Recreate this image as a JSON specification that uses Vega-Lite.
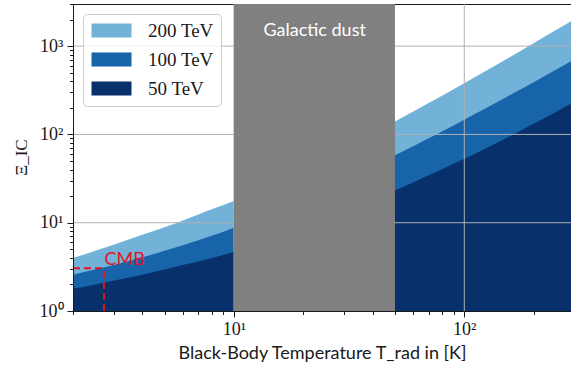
{
  "$schema": "https://vega.github.io/schema/vega-lite/v6.json",
  "width": 498,
  "height": 307,
  "autosize": "none",
  "padding": {"left": 73, "top": 4, "right": 0, "bottom": 54},
  "config": {
    "view": {"stroke": "#1a1a1a", "strokeWidth": 1},
    "legend": {
      "orient": "none",
      "legendX": 10,
      "legendY": 10,
      "padding": 7,
      "fillColor": "rgba(255,255,255,0.8)",
      "strokeColor": "#cccccc",
      "cornerRadius": 4,
      "symbolType": "M-1,-0.875H4V0.875H-1Z",
      "symbolSize": 256,
      "symbolStrokeWidth": 0,
      "symbolOpacity": 1,
      "labelOffset": 39,
      "labelFont": "Liberation Serif",
      "labelFontSize": 19,
      "labelColor": "#1a1a1a",
      "rowPadding": 9
    }
  },
  "datasets": {
    "curves": [
      {"T": 2, "E": "200 TeV", "Xi": 3.98}, {"T": 2.5, "E": "200 TeV", "Xi": 4.81}, {"T": 3, "E": "200 TeV", "Xi": 5.64}, {"T": 4, "E": "200 TeV", "Xi": 7.31}, {"T": 5, "E": "200 TeV", "Xi": 8.87}, {"T": 6, "E": "200 TeV", "Xi": 10.6}, {"T": 7, "E": "200 TeV", "Xi": 12.4}, {"T": 8, "E": "200 TeV", "Xi": 14.2}, {"T": 10, "E": "200 TeV", "Xi": 17.6}, {"T": 20, "E": "200 TeV", "Xi": 40.4}, {"T": 30, "E": "200 TeV", "Xi": 68.4}, {"T": 50, "E": "200 TeV", "Xi": 140}, {"T": 60, "E": "200 TeV", "Xi": 182}, {"T": 70, "E": "200 TeV", "Xi": 227}, {"T": 80, "E": "200 TeV", "Xi": 275}, {"T": 100, "E": "200 TeV", "Xi": 381}, {"T": 120, "E": "200 TeV", "Xi": 498}, {"T": 150, "E": "200 TeV", "Xi": 697}, {"T": 200, "E": "200 TeV", "Xi": 1079}, {"T": 250, "E": "200 TeV", "Xi": 1521}, {"T": 300, "E": "200 TeV", "Xi": 2014},
      {"T": 2, "E": "100 TeV", "Xi": 2.58}, {"T": 2.5, "E": "100 TeV", "Xi": 2.95}, {"T": 3, "E": "100 TeV", "Xi": 3.31}, {"T": 4, "E": "100 TeV", "Xi": 4.05}, {"T": 5, "E": "100 TeV", "Xi": 4.81}, {"T": 6, "E": "100 TeV", "Xi": 5.56}, {"T": 7, "E": "100 TeV", "Xi": 6.32}, {"T": 8, "E": "100 TeV", "Xi": 7.1}, {"T": 10, "E": "100 TeV", "Xi": 8.79}, {"T": 20, "E": "100 TeV", "Xi": 18.2}, {"T": 30, "E": "100 TeV", "Xi": 29.0}, {"T": 50, "E": "100 TeV", "Xi": 58}, {"T": 60, "E": "100 TeV", "Xi": 73.5}, {"T": 70, "E": "100 TeV", "Xi": 90.2}, {"T": 80, "E": "100 TeV", "Xi": 108}, {"T": 100, "E": "100 TeV", "Xi": 147}, {"T": 120, "E": "100 TeV", "Xi": 189}, {"T": 150, "E": "100 TeV", "Xi": 259}, {"T": 200, "E": "100 TeV", "Xi": 391}, {"T": 250, "E": "100 TeV", "Xi": 541}, {"T": 300, "E": "100 TeV", "Xi": 705},
      {"T": 2, "E": "50 TeV", "Xi": 1.79}, {"T": 2.5, "E": "50 TeV", "Xi": 2.0}, {"T": 3, "E": "50 TeV", "Xi": 2.2}, {"T": 4, "E": "50 TeV", "Xi": 2.58}, {"T": 5, "E": "50 TeV", "Xi": 2.95}, {"T": 6, "E": "50 TeV", "Xi": 3.32}, {"T": 7, "E": "50 TeV", "Xi": 3.63}, {"T": 8, "E": "50 TeV", "Xi": 3.98}, {"T": 10, "E": "50 TeV", "Xi": 4.66}, {"T": 20, "E": "50 TeV", "Xi": 8.4}, {"T": 30, "E": "50 TeV", "Xi": 12.5}, {"T": 50, "E": "50 TeV", "Xi": 23.2}, {"T": 60, "E": "50 TeV", "Xi": 28.6}, {"T": 70, "E": "50 TeV", "Xi": 34.4}, {"T": 80, "E": "50 TeV", "Xi": 40.4}, {"T": 100, "E": "50 TeV", "Xi": 53}, {"T": 120, "E": "50 TeV", "Xi": 66.7}, {"T": 150, "E": "50 TeV", "Xi": 89.3}, {"T": 200, "E": "50 TeV", "Xi": 132}, {"T": 250, "E": "50 TeV", "Xi": 179}, {"T": 300, "E": "50 TeV", "Xi": 235}
    ],
    "xgrid": [{"T": 10}, {"T": 100}],
    "ygrid": [{"Xi": 10}, {"Xi": 100}, {"Xi": 1000}],
    "dust": [{"T": 10, "T2": 50, "Xi": 1500, "label": "Galactic dust", "Tc": 22.4}],
    "cmb": [
      {"T": 2.725, "T2": 2.725, "Xi": 1, "Xi2": 3.05},
      {"T": 2, "T2": 2.725, "Xi": 3.05, "Xi2": 3.05}
    ],
    "cmblabel": [{"T": 2.74, "Xi": 3.75, "label": "CMB"}]
  },
  "layer": [
    {
      "data": {"name": "curves"},
      "transform": [{"filter": "datum.E == '200 TeV'"}],
      "mark": {"type": "area", "clip": true, "opacity": 1, "interpolate": "monotone"},
      "encoding": {
        "x": {
          "field": "T", "type": "quantitative",
          "scale": {"type": "log", "domain": [2, 290.6], "nice": false},
          "axis": {
            "title": "Black-Body Temperature T_rad in [K]",
            "values": [2, 3, 4, 5, 6, 7, 8, 9, 10, 20, 30, 40, 50, 60, 70, 80, 90, 100, 200],
            "labelExpr": "datum.value == 10 ? '10¹' : datum.value == 100 ? '10²' : ''",
            "tickSize": {"condition": {"test": "datum.value == 10 || datum.value == 100", "value": 6}, "value": 3.5},
            "grid": false,
            "zindex": 1,
            "domainColor": "#1a1a1a",
            "tickColor": "#1a1a1a",
            "labelFont": "Liberation Serif",
            "labelFontSize": 18,
            "labelColor": "#1a1a1a",
            "labelPadding": 3,
            "labelOverlap": false,
            "labelFlush": false,
            "titleFont": "Lato",
            "titleFontSize": 18,
            "titleFontWeight": "normal",
            "titleColor": "#1a1a1a",
            "titleY": 47,
            "titleBaseline": "alphabetic"
          }
        },
        "y": {
          "field": "Xi", "type": "quantitative",
          "scale": {"type": "log", "domain": [1, 3000], "nice": false},
          "axis": {
            "title": "Ξ_IC",
            "values": [1, 2, 3, 4, 5, 6, 7, 8, 9, 10, 20, 30, 40, 50, 60, 70, 80, 90, 100, 200, 300, 400, 500, 600, 700, 800, 900, 1000, 2000, 3000],
            "labelExpr": "datum.value == 1 ? '10⁰' : datum.value == 10 ? '10¹' : datum.value == 100 ? '10²' : datum.value == 1000 ? '10³' : ''",
            "tickSize": {"condition": {"test": "datum.value == 1 || datum.value == 10 || datum.value == 100 || datum.value == 1000", "value": 6}, "value": 3.5},
            "grid": false,
            "zindex": 1,
            "domainColor": "#1a1a1a",
            "tickColor": "#1a1a1a",
            "labelFont": "Liberation Serif",
            "labelFontSize": 18,
            "labelColor": "#1a1a1a",
            "labelPadding": 4,
            "labelOverlap": false,
            "labelFlush": false,
            "titleFont": "Liberation Serif",
            "titleFontSize": 17,
            "titleFontWeight": "normal",
            "titleColor": "#1a1a1a",
            "titleX": -47,
            "titleY": 153,
            "titleBaseline": "alphabetic"
          }
        },
        "y2": {"datum": 1},
        "color": {
          "field": "E", "type": "nominal",
          "scale": {"domain": ["200 TeV", "100 TeV", "50 TeV"], "range": ["#73b2d8", "#1764ab", "#08306b"]},
          "legend": {"title": null}
        }
      }
    },
    {
      "data": {"name": "curves"},
      "transform": [{"filter": "datum.E == '100 TeV'"}],
      "mark": {"type": "area", "clip": true, "opacity": 1, "interpolate": "monotone"},
      "encoding": {
        "x": {"field": "T", "type": "quantitative"},
        "y": {"field": "Xi", "type": "quantitative"},
        "y2": {"datum": 1},
        "color": {"field": "E", "type": "nominal"}
      }
    },
    {
      "data": {"name": "curves"},
      "transform": [{"filter": "datum.E == '50 TeV'"}],
      "mark": {"type": "area", "clip": true, "opacity": 1, "interpolate": "monotone"},
      "encoding": {
        "x": {"field": "T", "type": "quantitative"},
        "y": {"field": "Xi", "type": "quantitative"},
        "y2": {"datum": 1},
        "color": {"field": "E", "type": "nominal"}
      }
    },
    {
      "data": {"name": "xgrid"},
      "mark": {"type": "rule", "color": "#b0b0b0", "strokeWidth": 1},
      "encoding": {"x": {"field": "T", "type": "quantitative"}}
    },
    {
      "data": {"name": "ygrid"},
      "mark": {"type": "rule", "color": "#b0b0b0", "strokeWidth": 1},
      "encoding": {"y": {"field": "Xi", "type": "quantitative"}}
    },
    {
      "data": {"name": "dust"},
      "mark": {"type": "rect", "color": "#808080", "opacity": 1},
      "encoding": {
        "x": {"field": "T", "type": "quantitative"},
        "x2": {"field": "T2"}
      }
    },
    {
      "data": {"name": "dust"},
      "mark": {"type": "text", "color": "#ffffff", "font": "Lato", "fontSize": 18, "align": "center", "baseline": "middle"},
      "encoding": {
        "x": {"field": "Tc", "type": "quantitative"},
        "y": {"field": "Xi", "type": "quantitative"},
        "text": {"field": "label"}
      }
    },
    {
      "data": {"name": "cmb"},
      "mark": {"type": "rule", "color": "#e3141f", "strokeWidth": 2, "strokeDash": [7, 4]},
      "encoding": {
        "x": {"field": "T", "type": "quantitative"},
        "x2": {"field": "T2"},
        "y": {"field": "Xi", "type": "quantitative"},
        "y2": {"field": "Xi2"}
      }
    },
    {
      "data": {"name": "cmblabel"},
      "mark": {"type": "text", "color": "#e3141f", "font": "Lato", "fontSize": 18, "align": "left", "baseline": "middle"},
      "encoding": {
        "x": {"field": "T", "type": "quantitative"},
        "y": {"field": "Xi", "type": "quantitative"},
        "text": {"field": "label"}
      }
    }
  ]
}
